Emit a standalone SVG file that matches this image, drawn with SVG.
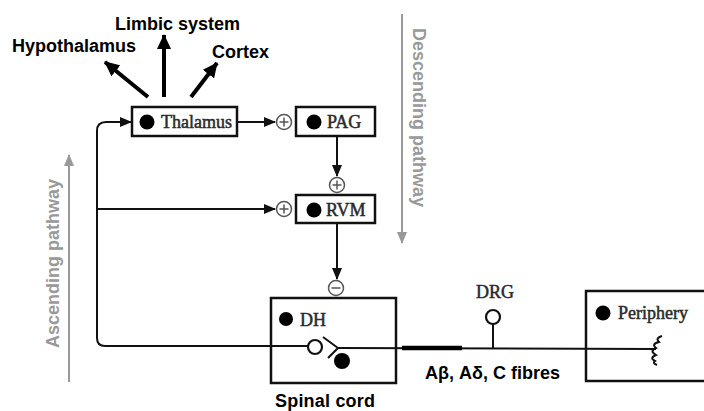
<svg xmlns="http://www.w3.org/2000/svg" width="704" height="411" viewBox="0 0 704 411">
<style>
.box{fill:none;stroke:#111;stroke-width:2.5}
.ln{fill:none;stroke:#111;stroke-width:2}
.thick{fill:none;stroke:#000;stroke-width:4}
.gray{fill:none;stroke:#999;stroke-width:2}
.sign{fill:#fff;stroke:#555;stroke-width:1.5}
.signl{stroke:#555;stroke-width:1.5}
.dot{fill:#000}
.lbl{font-family:"Liberation Serif",serif;font-size:18px;fill:#2a2a2a;stroke:#2a2a2a;stroke-width:0.5}
.bold{font-family:"Liberation Sans",Arial,sans-serif;font-weight:bold;font-size:18px;fill:#000}
.path{font-family:"Liberation Sans",Arial,sans-serif;font-weight:bold;font-size:18px;fill:#999}
</style>
<defs>
<marker id="ah" markerUnits="userSpaceOnUse" markerWidth="12" markerHeight="10" refX="11" refY="5" orient="auto"><path d="M0,0 L12,5 L0,10 Z" fill="#111"/></marker>
<marker id="ahb" markerUnits="userSpaceOnUse" markerWidth="15" markerHeight="14" refX="14" refY="7" orient="auto"><path d="M0,0 L15,7 L0,14 Z" fill="#000"/></marker>
<marker id="ahg" markerUnits="userSpaceOnUse" markerWidth="12" markerHeight="10" refX="11" refY="5" orient="auto"><path d="M0,0 L12,5 L0,10 Z" fill="#999"/></marker>
</defs>

<g id="connectors">
<line class="thick" x1="148" y1="97" x2="105" y2="62" marker-end="url(#ahb)"/>
<line class="thick" x1="164" y1="97" x2="164" y2="35" marker-end="url(#ahb)"/>
<line class="thick" x1="191" y1="97" x2="217" y2="63" marker-end="url(#ahb)"/>
<line class="ln" x1="237" y1="122" x2="275" y2="122" marker-end="url(#ah)"/>
<line class="ln" x1="337" y1="136" x2="337" y2="176" marker-end="url(#ah)"/>
<line class="ln" x1="337" y1="223" x2="337" y2="279" marker-end="url(#ah)"/>
<path class="ln" d="M308,346 L105,346 Q97,346 97,338 L97,131 Q97,122 106,122 L131,122" marker-end="url(#ah)"/>
<line class="ln" x1="97" y1="209" x2="275" y2="209" marker-end="url(#ah)"/>
<line class="ln" x1="338" y1="348" x2="656" y2="349"/>
<line stroke="#000" stroke-width="4.5" x1="402" y1="348" x2="462" y2="348"/>
<line class="ln" x1="493" y1="324" x2="493" y2="349"/>
<line class="gray" x1="402" y1="14" x2="402" y2="243" marker-end="url(#ahg)"/>
<line class="gray" x1="69" y1="382" x2="69" y2="155" marker-end="url(#ahg)"/>
</g>

<g id="signs">
<circle class="sign" cx="284" cy="122" r="7.5"/><path class="signl" d="M279.5,122 H288.5 M284,117.5 V126.5"/>
<circle class="sign" cx="337" cy="185" r="7.5"/><path class="signl" d="M332.5,185 H341.5 M337,180.5 V189.5"/>
<circle class="sign" cx="284" cy="209" r="7.5"/><path class="signl" d="M279.5,209 H288.5 M284,204.5 V213.5"/>
<circle class="sign" cx="336" cy="288" r="7.5"/><path class="signl" d="M331.5,288 H340.5"/>
</g>

<g id="labels">
<text class="bold" x="12" y="52">Hypothalamus</text>
<text class="bold" x="115" y="30">Limbic system</text>
<text class="bold" x="212" y="58">Cortex</text>
<text class="path" transform="translate(413,28) rotate(90)">Descending pathway</text>
<text class="path" transform="translate(59,348) rotate(-90)">Ascending pathway</text>
</g>

<g id="thalamus">
<rect class="box" x="132" y="107" width="105" height="29"/>
<circle class="dot" cx="147" cy="122" r="7.5"/>
<text class="lbl" x="161" y="128">Thalamus</text>
</g>

<g id="pag">
<rect class="box" x="296" y="107" width="79" height="29"/>
<circle class="dot" cx="314" cy="122" r="7.5"/>
<text class="lbl" x="327" y="128">PAG</text>
</g>

<g id="rvm">
<rect class="box" x="296" y="195" width="79" height="28"/>
<circle class="dot" cx="314" cy="210" r="7.5"/>
<text class="lbl" x="326" y="216">RVM</text>
</g>

<g id="spinal-cord">
<rect class="box" x="271" y="298" width="125" height="85"/>
<circle class="dot" cx="286" cy="319" r="7"/>
<text class="lbl" x="300" y="326">DH</text>
<circle cx="315" cy="347" r="7" fill="#fff" stroke="#111" stroke-width="2.2"/>
<path class="ln" d="M323,337 L338,348 L328,358" stroke-width="2.2"/>
<circle class="dot" cx="342" cy="361" r="8"/>
<text class="bold" x="325" y="407" text-anchor="middle" font-size="17" textLength="100">Spinal cord</text>
</g>

<g id="drg">
<circle cx="493" cy="317" r="7" fill="#fff" stroke="#111" stroke-width="2.2"/>
<text class="lbl" x="495" y="298" text-anchor="middle" font-size="20" fill="#444" stroke="#444">DRG</text>
</g>

<g id="fibres">
<text class="bold" x="425" y="379" font-size="17" textLength="135">Aβ, Aδ, C fibres</text>
</g>

<g id="periphery">
<rect class="box" x="586" y="291" width="140" height="90"/>
<circle class="dot" cx="603" cy="313" r="7.5"/>
<text class="lbl" x="618" y="319" font-size="21">Periphery</text>
<path class="ln" d="M662,336 q-7,2 -3,6 q-8,2 -3,6 q-7,3 0,7 q-7,3 -1,6 q-3,2 2,4"/>
</g>
</svg>
